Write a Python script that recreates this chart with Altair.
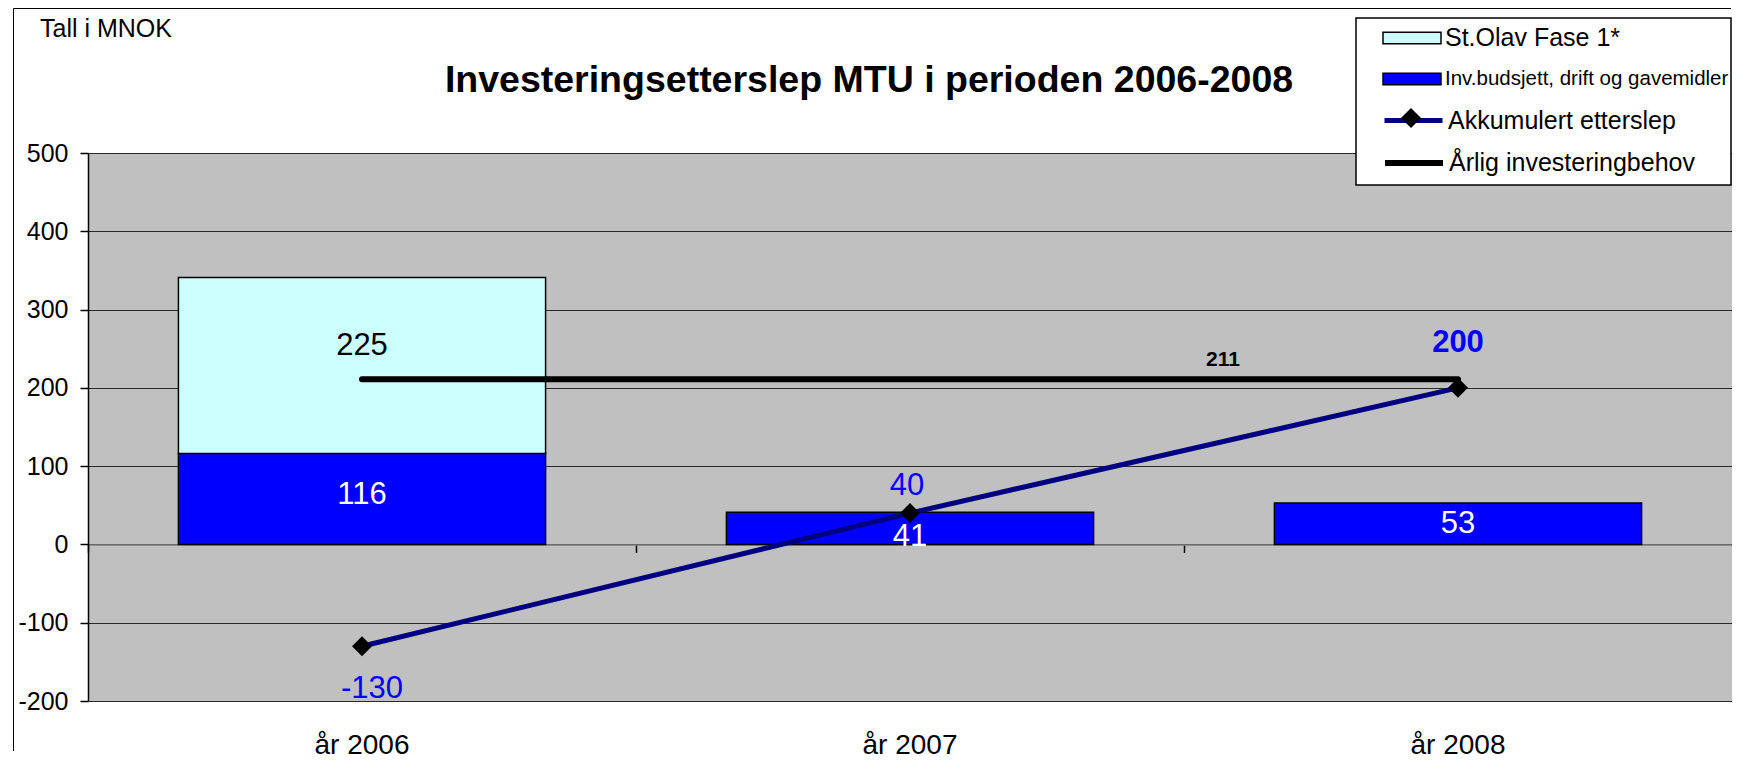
import altair as alt
import pandas as pd

# ---------------- data ----------------
years = ["år 2006", "år 2007", "år 2008"]
st_olav = [225, None, None]
inv_budsjett = [116, 41, 53]
akkumulert = [-130, 40, 200]
arlig = [211, 211, 211]
series_names = ["St.Olav Fase 1*", "Inv.budsjett, drift og gavemidler",
                "Akkumulert etterslep", "Årlig investeringbehov"]
y_ticks = [-200, -100, 0, 100, 200, 300, 400, 500]
title_text = "Investeringsetterslep MTU i perioden 2006-2008"
unit_text = "Tall i MNOK"

S_OLAV, S_INV, S_AKK, S_ARL = series_names

bar_rows = []
for i, yr in enumerate(years):
    bar_rows.append({"year": yr, "serie": S_INV, "value": inv_budsjett[i], "rank": 0})
    if st_olav[i] is not None:
        bar_rows.append({"year": yr, "serie": S_OLAV, "value": st_olav[i], "rank": 1})
bars_df = pd.DataFrame(bar_rows)
akk_df = pd.DataFrame({"year": years, "serie": S_AKK, "value": akkumulert})
arl_df = pd.DataFrame({"year": years, "serie": S_ARL, "value": arlig})
one = pd.DataFrame({"k": [0]})

# ---------------- style ----------------
FONT = "Liberation Sans"
W, H = 1644, 548
LIGHT = "#CCFFFF"
BLUE = "#0000FF"
NAVY = "#000080"
P_IN, P_OUT = 0.33, 0.165

xscale = alt.Scale(domain=years, paddingInner=P_IN, paddingOuter=P_OUT)
yscale = alt.Scale(domain=[-200, 500], nice=False, zero=False)

y_axis = alt.Axis(values=y_ticks, title=None, grid=True, gridColor="#2a2a2a",
                  gridWidth=1, domainColor="black", domainWidth=1.5,
                  tickColor="black", tickSize=8, tickWidth=1.5,
                  labelFont=FONT, labelFontSize=25, labelColor="black",
                  labelPadding=12, labelExpr="datum.value + ''", orient="left")
x_axis_labels = alt.Axis(title=None, ticks=False, domain=False, grid=False,
                         labelFont=FONT, labelFontSize=28, labelColor="black",
                         labelPadding=30, labelAngle=0, orient="bottom")
# ticks between the categories, on the zero line
x_axis_ticks = alt.Axis(title=None, labels=False, ticks=True,
                        bandPosition=-(P_IN / 2) / (1 - P_IN),
                        tickSize=8, tickColor="black", tickWidth=1.5,
                        domain=True, domainColor="#808080", domainWidth=1.5,
                        grid=False, offset=-156.6, orient="bottom")

RECT = "M-1,-0.2L1,-0.2L1,0.2L-1,0.2Z"
DIAM = "M0,-0.345L0.345,0L0,0.345L-0.345,0Z"
LX = 1294
SYM = 3364


def leg(y, size=25, **kw):
    return alt.Legend(title=None, orient="none", legendX=LX, legendY=y,
                      symbolSize=SYM, labelFont=FONT, labelFontSize=size,
                      labelColor="black", labelOffset=3, padding=0,
                      labelLimit=600, **kw)


def stacked(serie):
    return (alt.Chart(bars_df)
            .transform_stack(stack="value", groupby=["year"], as_=["v0", "v1"],
                             sort=[alt.SortField("rank", order="ascending")])
            .transform_filter(alt.datum.serie == serie))


bar_inv = stacked(S_INV).mark_bar(stroke="black", strokeWidth=1.5).encode(
    x=alt.X("year:N", scale=xscale, axis=x_axis_labels, sort=years),
    y=alt.Y("v0:Q", scale=yscale, axis=y_axis),
    y2="v1:Q",
    fill=alt.Fill("serie:N", scale=alt.Scale(domain=[S_INV], range=[BLUE]),
                  legend=leg(-104, size=20.5, symbolType=RECT,
                             symbolStrokeColor="black", symbolStrokeWidth=1.5)),
)
bar_st = stacked(S_OLAV).mark_bar(stroke="black", strokeWidth=1.5).encode(
    x=alt.X("year:N", scale=xscale, axis=x_axis_ticks, sort=years),
    y=alt.Y("v0:Q", scale=yscale, axis=None),
    y2="v1:Q",
    fill=alt.Fill("serie:N", scale=alt.Scale(domain=[S_OLAV], range=[LIGHT]),
                  legend=leg(-145, symbolType=RECT,
                             symbolStrokeColor="black", symbolStrokeWidth=1.5)),
)


def bar_text(serie, color, dy=0, year=None):
    base = stacked(serie)
    if year is not None:
        base = base.transform_filter(alt.datum.year == year)
    return (base
            .transform_calculate(mid="(datum.v0 + datum.v1) / 2",
                                 label="'' + datum.value")
            .mark_text(font=FONT, fontSize=31, color=color, baseline="middle", dy=dy)
            .encode(x=alt.X("year:N", scale=xscale, axis=None, sort=years),
                    y=alt.Y("mid:Q", scale=yscale, axis=None),
                    text=alt.Text("label:N")))


txt_inv = [bar_text(S_INV, "white", dy=d, year=yr)
           for yr, d in zip(years, [-4, 9, 0])]
txt_st = bar_text(S_OLAV, "black", dy=-20)

line_arl = alt.Chart(arl_df).mark_line(strokeWidth=6, strokeCap="round").encode(
    x=alt.X("year:N", scale=xscale, axis=None, sort=years),
    y=alt.Y("value:Q", scale=yscale, axis=None),
    stroke=alt.Stroke("serie:N", scale=alt.Scale(domain=[S_ARL], range=["black"]),
                      legend=leg(-22, symbolType="stroke", symbolStrokeWidth=6)),
)
line_akk = alt.Chart(akk_df).mark_line(strokeWidth=5).encode(
    x=alt.X("year:N", scale=xscale, axis=None, sort=years),
    y=alt.Y("value:Q", scale=yscale, axis=None),
    stroke=alt.Stroke("serie:N", scale=alt.Scale(domain=[S_AKK], range=[NAVY]),
                      legend=leg(-64, symbolType="stroke", symbolStrokeWidth=5)),
)
pts_akk = alt.Chart(akk_df).mark_point(shape="diamond", filled=True, size=400,
                                       opacity=1).encode(
    x=alt.X("year:N", scale=xscale, axis=None, sort=years),
    y=alt.Y("value:Q", scale=yscale, axis=None),
    fill=alt.Fill("serie:N", scale=alt.Scale(domain=[S_AKK], range=["black"]),
                  legend=leg(-64, symbolType=DIAM, symbolStrokeWidth=0,
                             labelExpr="''")),
)


def akk_label(i, dy, weight="normal", size=31, dx=0):
    return (alt.Chart(akk_df)
            .transform_filter(alt.datum.year == years[i])
            .transform_calculate(label="'' + datum.value")
            .mark_text(font=FONT, fontSize=size, fontWeight=weight, color=BLUE,
                       baseline="middle", dy=dy, dx=dx)
            .encode(x=alt.X("year:N", scale=xscale, axis=None, sort=years),
                    y=alt.Y("value:Q", scale=yscale, axis=None),
                    text=alt.Text("label:N")))


lab_akk = [akk_label(0, 43, dx=10), akk_label(1, -27, dx=-3),
           akk_label(2, -45, "bold", 31)]

lab_arl = (alt.Chart(arl_df)
           .transform_filter(alt.datum.year == years[1])
           .transform_calculate(label="'' + datum.value")
           .mark_text(font=FONT, fontSize=21, fontWeight="bold", color="black",
                      baseline="middle", dx=313, dy=-19)
           .encode(x=alt.X("year:N", scale=xscale, axis=None, sort=years),
                   y=alt.Y("value:Q", scale=yscale, axis=None),
                   text=alt.Text("label:N")))

legend_box = alt.Chart(one).mark_rect(fill="white", stroke="black",
                                      strokeWidth=1.5).encode(
    x=alt.value(1268), x2=alt.value(1643), y=alt.value(-135), y2=alt.value(32))

frame_top = alt.Chart(one).mark_rule(color="black", strokeWidth=1).encode(
    x=alt.value(-74.5), x2=alt.value(1643), y=alt.value(-144.5))
frame_left = alt.Chart(one).mark_rule(color="black", strokeWidth=1).encode(
    x=alt.value(-74.5), y=alt.value(-144.5), y2=alt.value(598))

title = alt.Chart(one).mark_text(text=title_text, font=FONT, fontSize=37.5,
                                 fontWeight="bold", color="black", align="center",
                                 baseline="alphabetic").encode(
    x=alt.value(781), y=alt.value(-61))
unit = alt.Chart(one).mark_text(text=unit_text, font=FONT, fontSize=25,
                                color="black", align="left",
                                baseline="alphabetic").encode(
    x=alt.value(-48), y=alt.value(-116))

chart = alt.layer(
    bar_inv, bar_st, line_arl, line_akk, pts_akk, *txt_inv, txt_st, *lab_akk,
    lab_arl, legend_box, frame_top, frame_left, title, unit,
).resolve_scale(fill="independent", stroke="independent").resolve_axis(
    x="independent", y="independent").resolve_legend(
    fill="independent", stroke="independent").properties(
    width=W, height=H, padding={"left": 5, "top": 0, "right": 0, "bottom": 0},
    background="white",
).configure_view(fill="#C0C0C0", stroke="#808080", strokeWidth=1)

chart.save("out.html", embed_options={"renderer": "svg", "actions": False})
